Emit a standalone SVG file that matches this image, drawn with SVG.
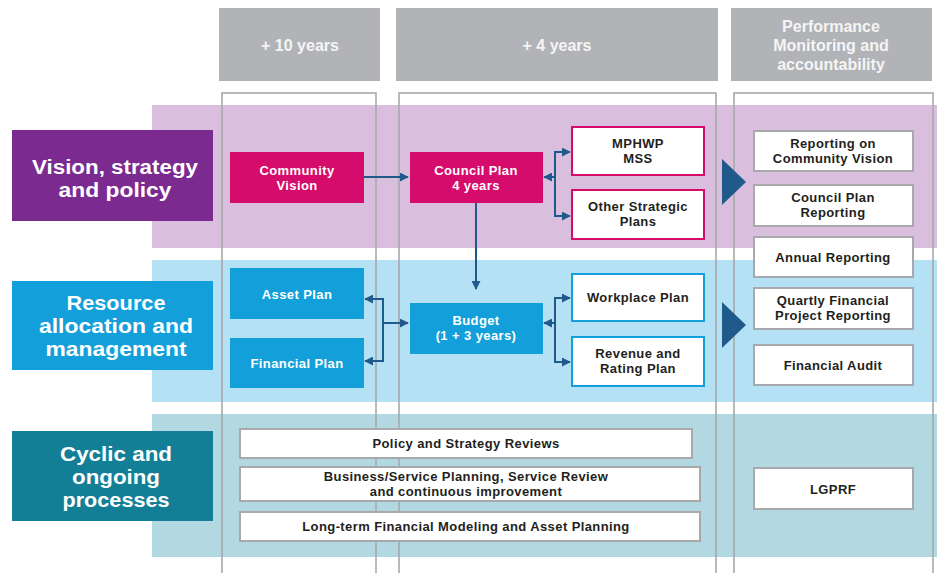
<svg xmlns="http://www.w3.org/2000/svg" width="937" height="573" viewBox="0 0 937 573">
  <style>
    text { font-family: "Liberation Sans", Arial, sans-serif; font-weight: bold; text-anchor: middle; }
    .hdr { fill: #b1b3b6; }
    .hdrt { fill: #f5f5f5; font-size: 16px; }
    .col { fill: none; stroke: #a7a9ac; stroke-width: 1.6; }
    .lbl { fill: #ffffff; font-size: 20px; }
    .wt { fill: #ffffff; font-size: 13px; letter-spacing: 0.4px; }
    .dk { fill: #231f20; font-size: 13px; letter-spacing: 0.4px; }
    .mag { fill: #d50c6c; }
    .blu { fill: #139fd9; }
    .bmag { fill: #ffffff; stroke: #d50c6c; stroke-width: 2; }
    .bblu { fill: #ffffff; stroke: #139fd9; stroke-width: 2; }
    .bgry { fill: #ffffff; stroke: #a7a9ac; stroke-width: 2; }
    .cn { fill: none; stroke: #1f5a8a; stroke-width: 2; }
  </style>
  <defs>
    <marker id="ah" viewBox="0 0 10 10" refX="9" refY="5" markerWidth="4.5" markerHeight="4.5" orient="auto" markerUnits="strokeWidth">
      <path d="M0,0 L10,5 L0,10 z" fill="#1f5a8a"/>
    </marker>
  </defs>

  <rect width="937" height="573" fill="#ffffff"/>

  <!-- column headers -->
  <g id="header-10y">
    <rect class="hdr" x="219" y="8" width="161" height="73"/>
    <text class="hdrt" x="300" y="51">+ 10 years</text>
  </g>
  <g id="header-4y">
    <rect class="hdr" x="396" y="8" width="322" height="73"/>
    <text class="hdrt" x="557" y="51">+ 4 years</text>
  </g>
  <g id="header-perf">
    <rect class="hdr" x="731" y="8" width="201" height="73"/>
    <text class="hdrt" x="831" y="32">Performance</text>
    <text class="hdrt" x="831" y="51">Monitoring and</text>
    <text class="hdrt" x="831" y="70">accountability</text>
  </g>

  <!-- row bands -->
  <rect x="152" y="105" width="785" height="143" fill="#d9bfdd"/>
  <rect x="152" y="260" width="785" height="142" fill="#b4e1f3"/>
  <rect x="152" y="414" width="785" height="143" fill="#b2d9e2"/>

  <!-- column outlines -->
  <rect class="col" x="222" y="93" width="154" height="500"/>
  <rect class="col" x="399" y="93" width="317" height="500"/>
  <rect class="col" x="734" y="93" width="199" height="500"/>

  <!-- row labels (stretched to the wide display face width) -->
  <g id="row-vision">
    <rect x="12" y="130" width="201" height="91" fill="#7b2a8f"/>
    <text class="lbl" x="115" y="174" textLength="166" lengthAdjust="spacingAndGlyphs">Vision, strategy</text>
    <text class="lbl" x="115" y="197" textLength="113" lengthAdjust="spacingAndGlyphs">and policy</text>
  </g>
  <g id="row-resource">
    <rect x="12" y="281" width="201" height="89" fill="#139fd9"/>
    <text class="lbl" x="116" y="310" textLength="99" lengthAdjust="spacingAndGlyphs">Resource</text>
    <text class="lbl" x="116" y="333" textLength="154" lengthAdjust="spacingAndGlyphs">allocation and</text>
    <text class="lbl" x="116" y="356" textLength="141" lengthAdjust="spacingAndGlyphs">management</text>
  </g>
  <g id="row-cyclic">
    <rect x="12" y="431" width="201" height="90" fill="#137f97"/>
    <text class="lbl" x="116" y="461" textLength="112" lengthAdjust="spacingAndGlyphs">Cyclic and</text>
    <text class="lbl" x="116" y="484" textLength="88" lengthAdjust="spacingAndGlyphs">ongoing</text>
    <text class="lbl" x="116" y="507" textLength="107" lengthAdjust="spacingAndGlyphs">processes</text>
  </g>

  <!-- planning nodes -->
  <g id="community-vision">
    <rect class="mag" x="230" y="152" width="134" height="51"/>
    <text class="wt" x="297" y="174.5">Community</text>
    <text class="wt" x="297" y="189.5">Vision</text>
  </g>
  <g id="council-plan">
    <rect class="mag" x="410" y="152" width="133" height="51"/>
    <text class="wt" x="476" y="174.5">Council Plan</text>
    <text class="wt" x="476" y="189.5">4 years</text>
  </g>
  <g id="mphwp-mss">
    <rect class="bmag" x="572" y="127" width="132" height="48"/>
    <text class="dk" x="638" y="147.5">MPHWP</text>
    <text class="dk" x="638" y="162.5">MSS</text>
  </g>
  <g id="other-strategic-plans">
    <rect class="bmag" x="572" y="190" width="132" height="49"/>
    <text class="dk" x="638" y="210.5">Other Strategic</text>
    <text class="dk" x="638" y="225.5">Plans</text>
  </g>
  <g id="asset-plan">
    <rect class="blu" x="230" y="268" width="134" height="51"/>
    <text class="wt" x="297" y="298.5">Asset Plan</text>
  </g>
  <g id="financial-plan">
    <rect class="blu" x="230" y="338" width="134" height="50"/>
    <text class="wt" x="297" y="367.5">Financial Plan</text>
  </g>
  <g id="budget">
    <rect class="blu" x="410" y="303" width="133" height="51"/>
    <text class="wt" x="476" y="324.5">Budget</text>
    <text class="wt" x="476" y="339.5">(1 + 3 years)</text>
  </g>
  <g id="workplace-plan">
    <rect class="bblu" x="572" y="274" width="132" height="47"/>
    <text class="dk" x="638" y="302">Workplace Plan</text>
  </g>
  <g id="revenue-rating-plan">
    <rect class="bblu" x="572" y="337" width="132" height="49"/>
    <text class="dk" x="638" y="357.5">Revenue and</text>
    <text class="dk" x="638" y="372.5">Rating Plan</text>
  </g>

  <!-- ongoing processes -->
  <g id="policy-reviews">
    <rect class="bgry" x="240" y="429" width="452" height="29"/>
    <text class="dk" x="466" y="448">Policy and Strategy Reviews</text>
  </g>
  <g id="business-planning">
    <rect class="bgry" x="240" y="467" width="460" height="34"/>
    <text class="dk" x="466" y="480.5">Business/Service Planning, Service Review</text>
    <text class="dk" x="466" y="495.5">and continuous improvement</text>
  </g>
  <g id="financial-modeling">
    <rect class="bgry" x="240" y="512" width="460" height="29"/>
    <text class="dk" x="466" y="531">Long-term Financial Modeling and Asset Planning</text>
  </g>

  <!-- reporting nodes -->
  <g id="reporting-community-vision">
    <rect class="bgry" x="754" y="131" width="159" height="40"/>
    <text class="dk" x="833" y="147.5">Reporting on</text>
    <text class="dk" x="833" y="162.5">Community Vision</text>
  </g>
  <g id="council-plan-reporting">
    <rect class="bgry" x="754" y="185" width="159" height="41"/>
    <text class="dk" x="833" y="201.5">Council Plan</text>
    <text class="dk" x="833" y="216.5">Reporting</text>
  </g>
  <g id="annual-reporting">
    <rect class="bgry" x="754" y="237" width="159" height="40"/>
    <text class="dk" x="833" y="262">Annual Reporting</text>
  </g>
  <g id="quarterly-reporting">
    <rect class="bgry" x="754" y="288" width="159" height="41"/>
    <text class="dk" x="833" y="304.5">Quartly Financial</text>
    <text class="dk" x="833" y="319.5">Project Reporting</text>
  </g>
  <g id="financial-audit">
    <rect class="bgry" x="754" y="345" width="159" height="40"/>
    <text class="dk" x="833" y="370">Financial Audit</text>
  </g>
  <g id="lgprf">
    <rect class="bgry" x="754" y="468" width="159" height="41"/>
    <text class="dk" x="833" y="494">LGPRF</text>
  </g>

  <!-- connectors -->
  <g id="connectors">
    <line class="cn" x1="364" y1="177" x2="408" y2="177" marker-end="url(#ah)"/>
    <line class="cn" x1="555" y1="177" x2="544" y2="177" marker-end="url(#ah)"/>
    <polyline class="cn" points="570,152 555,152 555,216 570,216"/>
    <line class="cn" x1="555" y1="152" x2="570" y2="152" marker-end="url(#ah)"/>
    <line class="cn" x1="555" y1="216" x2="570" y2="216" marker-end="url(#ah)"/>
    <line class="cn" x1="476" y1="203" x2="476" y2="289" marker-end="url(#ah)"/>
    <polyline class="cn" points="365,299 383,299 383,361 365,361"/>
    <line class="cn" x1="383" y1="299" x2="365" y2="299" marker-end="url(#ah)"/>
    <line class="cn" x1="383" y1="361" x2="365" y2="361" marker-end="url(#ah)"/>
    <line class="cn" x1="383" y1="323" x2="408" y2="323" marker-end="url(#ah)"/>
    <line class="cn" x1="555" y1="323" x2="544" y2="323" marker-end="url(#ah)"/>
    <polyline class="cn" points="570,298 555,298 555,362 570,362"/>
    <line class="cn" x1="555" y1="298" x2="570" y2="298" marker-end="url(#ah)"/>
    <line class="cn" x1="555" y1="362" x2="570" y2="362" marker-end="url(#ah)"/>
    <path d="M722,159 L746,182 L722,205 z" fill="#1f5a8a"/>
    <path d="M722,302 L746,325 L722,348 z" fill="#1f5a8a"/>
  </g>
</svg>
